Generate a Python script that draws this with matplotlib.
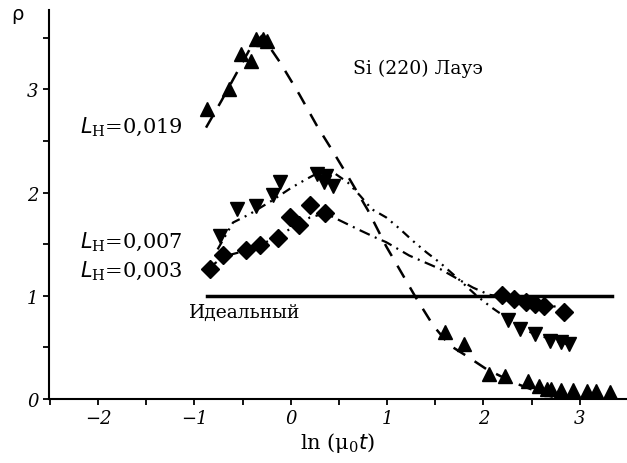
import matplotlib
matplotlib.use('Agg')
import matplotlib.pyplot as plt
from matplotlib.ticker import MultipleLocator

# measured points, L_H = 0.019 (up triangles)
x_019 = [-0.87, -0.64, -0.52, -0.41, -0.36, -0.29, -0.25,
         1.60, 1.80, 2.06, 2.22, 2.46, 2.58, 2.66, 2.70, 2.81, 2.93, 3.07, 3.17, 3.31]
y_019 = [2.81, 3.00, 3.34, 3.28, 3.49, 3.49, 3.47,
         0.65, 0.53, 0.24, 0.22, 0.17, 0.13, 0.10, 0.10, 0.09, 0.09, 0.08, 0.08, 0.07]

# measured points, L_H = 0.007 (down triangles)
x_007 = [-0.74, -0.56, -0.36, -0.18, -0.11, 0.27, 0.34, 0.37, 0.44,
         2.25, 2.38, 2.53, 2.69, 2.81, 2.89]
y_007 = [1.58, 1.84, 1.87, 1.98, 2.10, 2.18, 2.10, 2.16, 2.06,
         0.77, 0.68, 0.63, 0.56, 0.55, 0.53]

# measured points, L_H = 0.003 (diamonds)
x_003 = [-0.84, -0.70, -0.46, -0.32, -0.13, -0.01, 0.08, 0.20, 0.36,
         2.19, 2.32, 2.44, 2.53, 2.63, 2.84]
y_003 = [1.26, 1.40, 1.44, 1.49, 1.56, 1.76, 1.69, 1.88, 1.80,
         1.01, 0.97, 0.94, 0.92, 0.90, 0.84]

# fitted curves
fx_019 = [-0.88, -0.72, -0.55, -0.42, -0.30, -0.11, 0.09, 0.27, 0.45, 0.63, 0.80,
          0.99, 1.17, 1.30, 1.48, 1.65, 1.82, 2.03, 2.31, 2.58, 2.72]
fy_019 = [2.63, 2.89, 3.18, 3.40, 3.52, 3.26, 2.95, 2.65, 2.38, 2.10, 1.83,
          1.48, 1.19, 0.98, 0.71, 0.52, 0.42, 0.29, 0.16, 0.065, 0.02]

fx_007 = [-0.76, -0.60, -0.43, -0.20, 0.01, 0.16, 0.30, 0.45, 0.59, 0.72, 0.84,
          0.99, 1.13, 1.27, 1.41, 1.55, 1.72, 1.93, 2.08, 2.25, 2.50, 2.90]
fy_007 = [1.45, 1.71, 1.79, 1.92, 2.05, 2.13, 2.20, 2.19, 2.10, 1.97, 1.84,
          1.76, 1.65, 1.53, 1.42, 1.32, 1.18, 1.00, 0.89, 0.78, 0.64, 0.52]

fx_003 = [-0.86, -0.70, -0.46, -0.30, -0.13, 0.05, 0.20, 0.36, 0.51, 0.73, 0.89,
          0.99, 1.23, 1.55, 1.89, 2.06, 2.35, 2.60, 2.85]
fy_003 = [1.26, 1.38, 1.44, 1.50, 1.58, 1.68, 1.76, 1.80, 1.73, 1.63, 1.56,
          1.52, 1.39, 1.26, 1.08, 1.01, 0.97, 0.93, 0.87]

ideal_x = [-0.87, 3.33]
ideal_y = [1.0, 1.0]

plt.rcParams['font.family'] = ['DejaVu Serif']
fig = plt.figure(figsize=(6.27, 4.64), dpi=100)
ax = fig.add_axes([49/627, 64/464, 578/627, 389/464])

ax.plot(fx_019, fy_019, color='black', lw=1.8, dashes=(5.5, 4.5))
ax.plot(fx_007, fy_007, color='black', lw=1.6, dashes=(4, 2.5, 0.9, 2.5, 0.9, 2.5))
ax.plot(fx_003, fy_003, color='black', lw=1.6, dashes=(5, 2.5, 0.9, 2.5))
ax.plot(ideal_x, ideal_y, color='black', lw=2.5)

ax.plot(x_019, y_019, '^', color='black', ms=10, ls='none')
ax.plot(x_007, y_007, 'v', color='black', ms=10, ls='none')
ax.plot(x_003, y_003, 'D', color='black', ms=9, ls='none')

ax.set_xlim(-2.51, 3.49)
ax.set_ylim(0, 3.77)
ax.spines['top'].set_visible(False)
ax.spines['right'].set_visible(False)
ax.spines['left'].set_linewidth(1.5)
ax.spines['bottom'].set_linewidth(1.5)
ax.xaxis.set_major_locator(MultipleLocator(1))
ax.xaxis.set_minor_locator(MultipleLocator(0.5))
ax.yaxis.set_major_locator(MultipleLocator(1))
ax.yaxis.set_minor_locator(MultipleLocator(0.5))
ax.tick_params(which='both', direction='out', length=4, width=1.3, labelsize=13)
ax.set_xticks([-2, -1, 0, 1, 2, 3])
ax.set_xticklabels(['\u22122', '\u22121', '0', '1', '2', '3'], style='italic')
ax.set_yticks([0, 1, 2, 3])
ax.set_yticklabels(['0', '1', '2', '3'], style='italic')

ax.set_xlabel(r'ln ($\mathregular{\mu_0}$$\mathit{t}$)', fontsize=15, labelpad=2)
fig.text(17/627, 1 - 15/464, '\u03c1', fontsize=14, ha='center', va='center',
         family='DejaVu Sans')

ax.text(1.32, 3.21, 'Si (220) Лауэ', fontsize=13.5, ha='center', va='center')
ax.text(-1.12, 2.64, r'$\mathit{L}_{\mathregular{H}}$=0,019', fontsize=15, ha='right', va='center')
ax.text(-1.12, 1.53, r'$\mathit{L}_{\mathregular{H}}$=0,007', fontsize=15, ha='right', va='center')
ax.text(-1.12, 1.25, r'$\mathit{L}_{\mathregular{H}}$=0,003', fontsize=15, ha='right', va='center')
ax.text(-0.48, 0.84, 'Идеальный', fontsize=13.5, ha='center', va='center')

fig.savefig('out.png', dpi=100)
